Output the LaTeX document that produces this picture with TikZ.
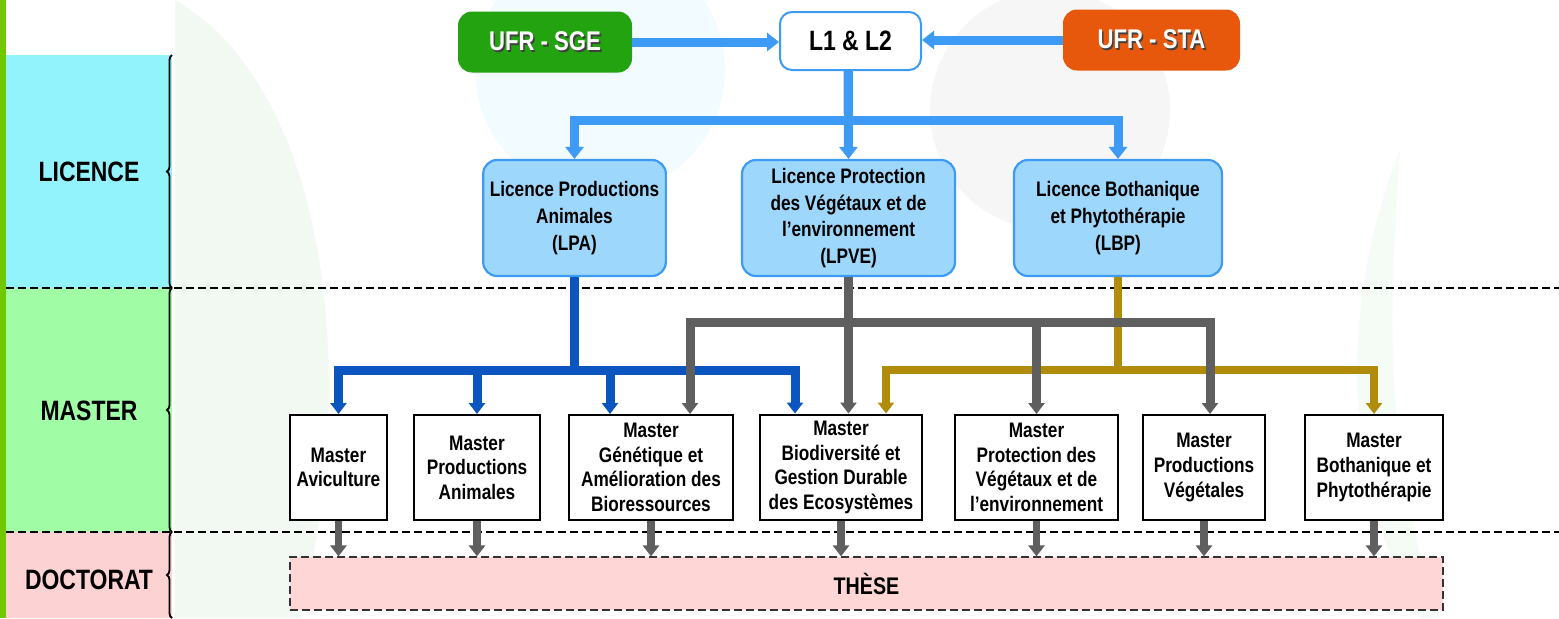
\documentclass[tikz,border=0pt]{standalone}
\usepackage{fontspec}
\setmainfont{Liberation Sans}[FakeStretch=0.82]
\usetikzlibrary{arrows.meta,decorations.pathreplacing,calc}
\definecolor{barGreen}{HTML}{72C800}
\definecolor{licPanel}{HTML}{93F3FD}
\definecolor{masPanel}{HTML}{A0FDA6}
\definecolor{docPanel}{HTML}{FDD2D2}
\definecolor{topBlue}{HTML}{3D9BF5}
\definecolor{licFill}{HTML}{9DD7FB}
\definecolor{darkBlue}{HTML}{0B55C0}
\definecolor{arrGray}{HTML}{5F5F5F}
\definecolor{gold}{HTML}{B08C0A}
\definecolor{sgeGreen}{HTML}{22A30F}
\definecolor{staOrange}{HTML}{E8580C}
\definecolor{theseFill}{HTML}{FFD6D6}
\newcommand{\shad}[1]{\makebox[0pt][l]{\hspace{0.8pt}\raisebox{-0.8pt}{\color{black!75}#1}}#1}
\begin{document}
\begin{tikzpicture}[x=0.5pt,y=-0.5pt,
  sidelabel/.style={font=\bfseries\fontsize{14}{16}\selectfont, text=black},
  ufr/.style={rounded corners=7pt, text=white, font=\bfseries\fontsize{13.5}{15}\selectfont, minimum height=30.5pt, minimum width=87pt},
  topbox/.style={draw=topBlue, line width=1pt, fill=white, rounded corners=6pt, font=\bfseries\fontsize{14}{16}\selectfont, minimum height=29pt, minimum width=70.5pt},
  lic/.style={draw=topBlue, line width=1.1pt, fill=licFill, rounded corners=7pt, align=center, font=\bfseries\fontsize{10.5}{13.3}\selectfont, minimum height=58pt},
  mas/.style={draw=black, line width=1pt, fill=white, align=center, font=\bfseries\fontsize{10.5}{12.3}\selectfont, minimum height=52.5pt},
  these/.style={draw=black!80, line width=0.6pt, dash pattern=on 4pt off 2pt, fill=theseFill, font=\bfseries\fontsize{12}{14}\selectfont, minimum width=576.5pt, minimum height=26.5pt},
  toparr/.style={draw=topBlue, line width=4.5pt, -{Triangle[width=9pt,length=6pt]}},
  bluearr/.style={draw=darkBlue, line width=4.5pt, -{Triangle[width=8pt,length=5.5pt]}},
  grayarr/.style={draw=arrGray, line width=4.5pt, -{Triangle[width=8pt,length=5.5pt]}},
  goldarr/.style={draw=gold, line width=3.8pt, -{Triangle[width=8pt,length=5.5pt]}},
  docarr/.style={draw=arrGray, line width=3.8pt, -{Triangle[width=8pt,length=5.5pt]}},
  sep/.style={draw=black, line width=0.8pt, dash pattern=on 4pt off 2pt},
  bracestyle/.style={draw=black, line width=0.9pt, decorate, decoration={brace, amplitude=2.5pt}}
]
\useasboundingbox (0,0) rectangle (1559,618);
\fill[white] (0,0) rectangle (1559,618);
% faint background watermark
\fill[blue!30!cyan, opacity=0.05] (600,70) circle (125);
\fill[black, opacity=0.035] (1050,110) circle (120);
\fill[green!60!black, opacity=0.05] (175,0) .. controls (330,90) and (360,380) .. (300,618) -- (175,618) -- cycle;
\fill[green!60!black, opacity=0.04] (1400,150) .. controls (1340,300) and (1340,480) .. (1420,618) -- (1440,618) .. controls (1380,450) and (1390,300) .. cycle;
% side panels
\fill[barGreen] (0,0) rectangle (6,618);
\fill[licPanel] (6,55) rectangle (172,288);
\fill[masPanel] (6,288) rectangle (172,532);
\fill[docPanel] (6,532) rectangle (172,618);
\node[sidelabel] (lLic) at (89,172) {LICENCE};
\node[sidelabel] (lMas) at (89,411) {MASTER};
\node[sidelabel] (lDoc) at (89,580) {DOCTORAT};
\draw[bracestyle] (172,288) -- (172,55);
\draw[bracestyle] (172,532) -- (172,288);
\draw[bracestyle] (172,618) -- (172,532);
% separators
\draw[sep] (6,288) -- (1559,288);
\draw[sep] (6,532) -- (1559,532);
% top
\node[ufr, fill=sgeGreen] (sge) at (545,42) {\shad{UFR - SGE}};
\node[ufr, fill=staOrange, minimum width=88.5pt] (sta) at (1151.5,40) {\shad{UFR - STA}};
\node[topbox] (l12) at (850.5,41) {L1 \& L2};
\draw[toparr] (sge.east) -- (sge.east -| l12.west);
\draw[toparr] (sta.west) -- (sta.west -| l12.east);
% licences
\node[lic, minimum width=90.5pt] (lpa) at (574.5,218) {Licence Productions\\Animales\\(LPA)};
\node[lic, minimum width=106.5pt] (lpve) at (848.5,218) {Licence Protection\\des Végétaux et de\\l’environnement\\(LPVE)};
\node[lic, minimum width=104pt] (lbp) at (1118,218) {Licence Bothanique\\et Phytothérapie\\(LBP)};
\coordinate (jTop) at (848,120);
\draw[toparr] (l12.south -| jTop) -- (jTop) -| (lpa.north);
\draw[toparr] (l12.south -| jTop) -- (lpve.north);
\draw[toparr] (jTop) -| (lbp.north);
% masters
\node[mas, minimum width=48.5pt] (mav) at (338.5,467.5) {Master\\Aviculture};
\node[mas, minimum width=63pt] (mpa) at (477,467.5) {Master\\Productions\\Animales};
\node[mas, minimum width=82pt] (mgen) at (651,467.5) {Master\\Génétique et\\Amélioration des\\Bioressources};
\node[mas, minimum width=81pt] (mbio) at (841,467.5) {Master\\Biodiversité et\\Gestion Durable\\des Ecosystèmes};
\node[mas, minimum width=81.5pt] (mpro) at (1036.5,467.5) {Master\\Protection des\\Végétaux et de\\l’environnement};
\node[mas, minimum width=61pt] (mpv) at (1204,467.5) {Master\\Productions\\Végétales};
\node[mas, minimum width=69pt] (mbot) at (1374,467.5) {Master\\Bothanique et\\Phytothérapie};
% blue tree from LPA
\coordinate (jBlue) at (574.5,370);
\draw[bluearr] (lpa.south) -- (jBlue) -| (mav.north);
\draw[bluearr] (jBlue) -| (mpa.north);
\draw[bluearr] (jBlue) -| ([xshift=-20.5pt]mgen.north);
\draw[bluearr] (jBlue) -| ([xshift=-23pt]mbio.north);
% gold tree from LBP
\coordinate (jGold) at (1118,370);
\draw[goldarr] (lbp.south) -- (jGold) -| ([xshift=22.5pt]mbio.north);
\draw[goldarr] (jGold) -| (mbot.north);
% gray tree from LPVE
\coordinate (jGray) at (848.5,322);
\draw[grayarr] (lpve.south) -- (jGray) -| ([xshift=19.5pt]mgen.north);
\draw[grayarr] (jGray) -- ([xshift=3.75pt]mbio.north |- jGray) -- ([xshift=3.75pt]mbio.north);
\draw[grayarr] (jGray) -| (mpro.north);
\draw[grayarr] (jGray) -| ([xshift=3pt]mpv.north);
% these
\node[these] (th) at (866.5,583.5) {THÈSE};
\foreach \m in {mav,mpa,mgen,mbio,mpro,mpv,mbot}{
  \draw[docarr] (\m.south) -- (\m.south |- th.north);
}
\end{tikzpicture}
\end{document}
